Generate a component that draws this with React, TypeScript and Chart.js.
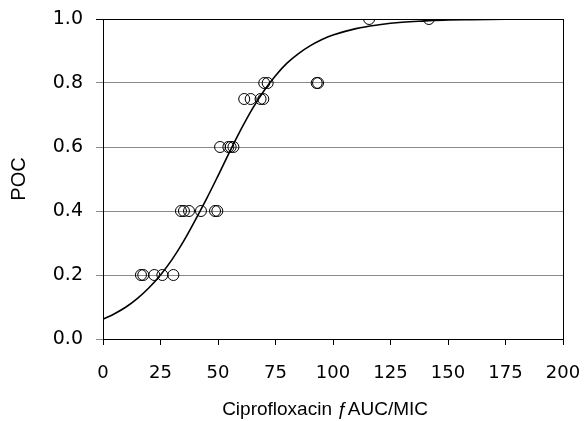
import React, { useEffect, useRef } from "react";
import { Chart, registerables } from "chart.js";

Chart.register(...registerables);

// Observed probability of cure (POC) against ciprofloxacin fAUC/MIC
const obsAuc = [
  16.5, 17.5, 22.3, 25.8, 30.6,
  33.9, 35.2, 37.4, 42.6, 48.7, 49.7,
  50.9, 54.5, 55.5, 56.7,
  61.4, 64.2, 68.5, 69.7,
  70.1, 71.6, 92.9, 93.5,
  115.7, 141.7,
];
const obsPoc = [
  0.2, 0.2, 0.2, 0.2, 0.2,
  0.4, 0.4, 0.4, 0.4, 0.4, 0.4,
  0.6, 0.6, 0.6, 0.6,
  0.75, 0.75, 0.75, 0.75,
  0.8, 0.8, 0.8, 0.8,
  1.0, 1.0,
];

// Fitted response curve, sampled along the x axis
const fitAuc = [0, 5, 10, 15, 20, 25, 30, 35, 40, 45, 50, 55, 60, 65, 70, 75, 80, 85, 90, 95, 100, 110, 120, 130, 140, 150, 160, 175, 200];
const fitPoc = [
  0.062, 0.079, 0.1, 0.127, 0.16, 0.2, 0.248, 0.305, 0.37, 0.438, 0.51, 0.584, 0.655,
  0.72, 0.776, 0.823, 0.862, 0.892, 0.916, 0.935, 0.95, 0.97, 0.982, 0.99, 0.994,
  0.997, 0.998, 0.999, 1.0,
];

const xTicks = [0, 25, 50, 75, 100, 125, 150, 175, 200];
const yTicks = [0, 0.2, 0.4, 0.6, 0.8, 1.0];

const xTickFont = { family: "'DejaVu Sans', Verdana, sans-serif", size: 18 };
const yTickFont = { family: "'DejaVu Sans', Verdana, sans-serif", size: 19 };
const titleFont = { family: "'Liberation Sans', Arial, sans-serif", size: 19, lineHeight: 1 };

// Frame line on the right side of the plot area
const frame = {
  id: "frame",
  afterDraw(chart: any) {
    const { ctx, chartArea } = chart;
    ctx.save();
    ctx.strokeStyle = "#000";
    ctx.lineWidth = 1;
    ctx.beginPath();
    ctx.moveTo(chartArea.right + 0.5, chartArea.top);
    ctx.lineTo(chartArea.right + 0.5, chartArea.bottom);
    ctx.stroke();
    ctx.restore();
  },
};

export default function App() {
  const canvasRef = useRef<HTMLCanvasElement | null>(null);

  useEffect(() => {
    const canvas = canvasRef.current;
    if (!canvas) return;
    const chart = new Chart(canvas, {
      type: "scatter",
      data: {
        datasets: [
          {
            label: "Fit",
            type: "line",
            data: fitAuc.map((x, i) => ({ x, y: fitPoc[i] })),
            borderColor: "#000",
            borderWidth: 1.6,
            pointRadius: 0,
            fill: false,
            tension: 0.4,
          },
          {
            label: "Observed",
            data: obsAuc.map((x, i) => ({ x, y: obsPoc[i] })),
            borderColor: "#000",
            borderWidth: 1,
            backgroundColor: "rgba(0,0,0,0)",
            pointRadius: 5.5,
            pointStyle: "circle",
          },
        ],
      },
      options: {
        responsive: false,
        animation: false,
        events: [],
        layout: { padding: { top: 19, right: 21, left: 0, bottom: 0 } },
        plugins: {
          legend: { display: false },
          tooltip: { enabled: false },
        },
        scales: {
          x: {
            type: "linear",
            min: 0,
            max: 200,
            afterBuildTicks: (s: any) => {
              s.ticks = xTicks.map((v) => ({ value: v }));
            },
            afterFit: (s: any) => {
              s.height = 82;
              s.paddingLeft = 0;
              s.paddingRight = 0;
              s.paddingTop = 0;
              s.paddingBottom = 0;
            },
            grid: {
              drawOnChartArea: false,
              drawTicks: true,
              tickLength: 6,
              color: "#000",
              lineWidth: 1,
            },
            border: { display: true, color: "#000", width: 1 },
            ticks: {
              color: "#000",
              font: xTickFont,
              padding: 18,
              maxRotation: 0,
              callback: (v: any) => String(v),
            },
            title: {
              display: true,
              // trailing spaces nudge the centred caption slightly left
              text: "Ciprofloxacin ƒAUC/MIC   ",
              color: "#000",
              font: titleFont,
              padding: { top: 0, bottom: 2 },
            },
          },
          y: {
            type: "linear",
            min: 0,
            max: 1,
            afterBuildTicks: (s: any) => {
              s.ticks = yTicks.map((v) => ({ value: v }));
            },
            afterFit: (s: any) => {
              s.width = 103;
              s.paddingLeft = 0;
              s.paddingRight = 0;
              s.paddingTop = 0;
              s.paddingBottom = 0;
            },
            grid: {
              drawTicks: true,
              tickLength: 7,
              lineWidth: 1,
              color: (c: any) => (c.tick && c.tick.value === 1 ? "#000" : "#8a8a8a"),
            },
            border: { display: true, color: "#000", width: 1 },
            ticks: {
              color: "#000",
              font: yTickFont,
              padding: 13,
              callback: (v: any) => Number(v).toFixed(1),
            },
            title: {
              display: true,
              text: "POC",
              color: "#000",
              font: { family: "'Liberation Sans', Arial, sans-serif", size: 20, lineHeight: 1 },
              padding: { top: 9, bottom: 0 },
            },
          },
        },
      },
      plugins: [frame],
    } as any);
    return () => chart.destroy();
  }, []);

  return (
    <div style={{ position: "fixed", left: 0, top: 0, width: 584, height: 421, background: "#fff" }}>
      <canvas ref={canvasRef} width={584} height={421} />
    </div>
  );
}
